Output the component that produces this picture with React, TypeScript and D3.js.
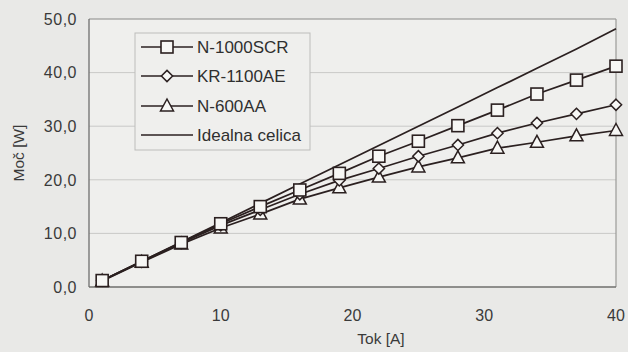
import React from "react";
import * as d3 from "d3";

const currentA = [1, 4, 7, 10, 13, 16, 19, 22, 25, 28, 31, 34, 37, 40];
const n1000scr = [1.2, 4.8, 8.3, 11.8, 15.0, 18.1, 21.2, 24.4, 27.2, 30.1, 33.0, 36.0, 38.6, 41.2];
const kr1100ae = [1.2, 4.7, 8.2, 11.5, 14.4, 17.3, 19.9, 22.1, 24.4, 26.5, 28.7, 30.6, 32.3, 34.0];
const n600aa = [1.1, 4.6, 8.0, 11.0, 13.6, 16.4, 18.5, 20.5, 22.4, 24.1, 25.9, 27.0, 28.2, 29.2];
const idealna = [1.2, 4.8, 8.4, 12.0, 15.6, 19.2, 22.8, 26.4, 30.0, 33.6, 37.2, 40.8, 44.4, 48.2];
const seriesNames = ["N-1000SCR", "KR-1100AE", "N-600AA", "Idealna celica"];
const seriesMarkers = ["square", "diamond", "triangle", "none"];
const xTicks = [0, 10, 20, 30, 40];
const yTicks = [0, 10, 20, 30, 40, 50];

const W = 628, H = 352;
const L = 89, R = 616, T = 19, B = 287;
const INK = "#2b2020";
const FONT = "'Liberation Sans', Arial, sans-serif";

function Marker({ type, x, y }: { type: string; x: number; y: number }) {
  if (type === "square") {
    return <rect x={x - 6} y={y - 6} width={12} height={12} fill="#f7f7f5" stroke={INK} strokeWidth={1.6} />;
  }
  if (type === "diamond") {
    const s = d3.symbol().type(d3.symbolDiamond2).size(80)();
    return <path d={s as string} transform={`translate(${x},${y})`} fill="#f7f7f5" stroke={INK} strokeWidth={1.5} />;
  }
  if (type === "triangle") {
    const p = `M${x},${y - 7} L${x + 6.5},${y + 5} L${x - 6.5},${y + 5} Z`;
    return <path d={p} fill="#f7f7f5" stroke={INK} strokeWidth={1.5} />;
  }
  return null;
}

export default function App() {
  const x = d3.scaleLinear().domain([0, 40]).range([L, R]);
  const y = d3.scaleLinear().domain([0, 50]).range([B, T]);
  const line = d3.line<number>().x((_, i) => x(currentA[i])).y((d) => y(d));
  const allSeries = [n1000scr, kr1100ae, n600aa, idealna];
  const drawOrder = [3, 2, 1, 0];

  const legX = 135, legY = 33, legW = 175, legH = 117;
  const rowY = [47, 76, 106, 135];

  return (
    <svg width={W} height={H} style={{ position: "absolute", left: 0, top: 0, background: "#e9e9e7" }}>
      <rect x={0} y={0} width={W} height={H} fill="#e9e9e7" />
      <rect x={L} y={T} width={R - L} height={B - T} fill="#efefed" />
      {yTicks.slice(1, -1).map((t) => (
        <line key={t} x1={L} x2={R} y1={y(t)} y2={y(t)} stroke="#c9c9c7" strokeWidth={1} />
      ))}
      <line x1={L} x2={R} y1={T} y2={T} stroke="#8a8a88" strokeWidth={1.2} />
      <line x1={R} x2={R} y1={T} y2={B} stroke="#9a9a98" strokeWidth={1.2} />
      <line x1={L} x2={L} y1={T} y2={B} stroke="#6f6f6d" strokeWidth={1.3} />
      <line x1={L} x2={R} y1={B} y2={B} stroke="#6f6f6d" strokeWidth={1.3} />
      {yTicks.map((t) => (
        <text key={t} x={77} y={y(t)} dy="0.36em" textAnchor="end" fontFamily={FONT} fontSize={16} letterSpacing={0.5} fill="#3a3a3a">
          {t.toFixed(1).replace(".", ",")}
        </text>
      ))}
      {xTicks.map((t) => (
        <text key={t} x={x(t)} y={321} textAnchor="middle" fontFamily={FONT} fontSize={16} fill="#3a3a3a">
          {t}
        </text>
      ))}
      <text x={381} y={344} textAnchor="middle" fontFamily={FONT} fontSize={15.5} fill="#3a3a3a">Tok [A]</text>
      <text transform={`translate(24,${(T + B) / 2}) rotate(-90)`} textAnchor="middle" fontFamily={FONT} fontSize={15.5} fill="#3a3a3a">Moč [W]</text>

      {drawOrder.map((si) => (
        <g key={si}>
          <path d={line(allSeries[si]) as string} fill="none" stroke={INK} strokeWidth={1.7} />
          {allSeries[si].map((v, i) => (
            <Marker key={i} type={seriesMarkers[si]} x={x(currentA[i])} y={y(v)} />
          ))}
        </g>
      ))}

      <rect x={legX} y={legY} width={legW} height={legH} fill="#efefed" stroke="#bdbdbb" strokeWidth={1} />
      {seriesNames.map((name, i) => (
        <g key={name}>
          <line x1={141} x2={193} y1={rowY[i]} y2={rowY[i]} stroke={INK} strokeWidth={1.7} />
          <Marker type={seriesMarkers[i]} x={167} y={rowY[i]} />
          <text x={197} y={rowY[i]} dy="0.36em" fontFamily={FONT} fontSize={17} fill="#2f2f2f">{name}</text>
        </g>
      ))}
    </svg>
  );
}
